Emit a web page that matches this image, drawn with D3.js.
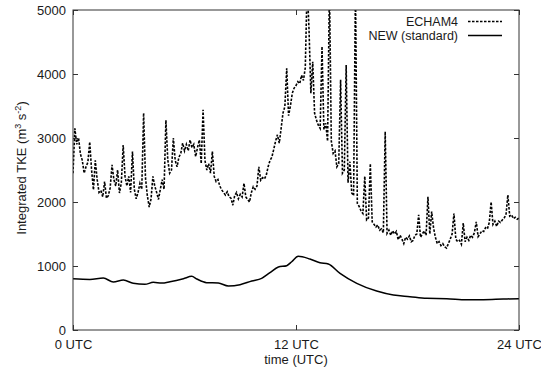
<!DOCTYPE html>
<html><head><meta charset="utf-8">
<script src="https://cdn.jsdelivr.net/npm/d3@7"></script>
<style>
body{margin:0;background:#fff}
svg{display:block}
text{font-family:"Liberation Sans",Arial,Helvetica,sans-serif;font-size:13px;fill:#1a1a1a}
</style>
</head><body><svg id="c" width="541" height="376"></svg>
<script>
const xTickHours = [0, 12, 24];
const xTickLabels = ["0 UTC", "12 UTC", "24 UTC"];
const yTicks = [0, 1000, 2000, 3000, 4000, 5000];
const seriesNames = ["ECHAM4", "NEW (standard)"];

// ECHAM4: sampled every 0.1 h from 0 UTC
const echamStepHours = 0.1;
const echamValues = [
2450,3150,2900,3000,2750,2650,2450,2550,2620,2940,
2500,2190,2650,2350,2150,2180,2080,2320,2060,2100,
2220,2580,2350,2250,2500,2140,2300,2890,2400,2250,
2400,2150,2790,2200,2050,2150,2290,2200,3390,2380,
2100,1920,2050,2400,2250,2150,2040,2200,2350,2200,
3280,2660,2450,2500,3000,2650,2550,2700,2760,2920,
2800,2900,2800,2970,2850,2900,2710,2850,2970,2600,
3440,2650,2500,2600,2450,2790,2400,2320,2350,2250,
2190,2150,2110,2160,2080,2060,1950,2100,2150,2050,
2120,2080,2290,2080,2040,2000,2150,2240,2200,2250,
2550,2340,2380,2360,2420,2550,2650,2700,2820,2950,
3050,2920,3150,3390,3490,4090,3350,3500,3700,3780,
3820,3880,3850,3980,3900,4100,5400,4700,3700,4190,
3390,3280,3200,3150,4430,3130,3230,2950,5400,2950,
2760,2800,2550,2600,3910,2450,2500,4140,2300,2630,
2140,2100,5400,1980,1930,1860,1820,2400,1720,1750,
2600,1690,1650,1610,1640,1560,1580,1520,3100,1510,
1560,1480,1550,1500,1540,1410,1480,1420,1350,1450,
1420,1470,1380,1400,1480,1500,1800,1450,1500,1550,
1480,2080,1500,1850,1600,1450,1350,1380,1320,1350,
1300,1280,1350,1420,1500,1820,1420,1380,1400,1340,
1670,1380,1450,1400,1480,1450,1520,1690,1460,1500,
1550,1540,1600,1580,1680,2000,1650,1700,1620,1700,
1680,1720,1750,1800,2110,1780,1800,1740,1760,1730,
1750
];

// NEW (standard)
const newHours = [0,0.91,1.63,2.17,2.71,3.24,3.87,4.32,4.77,5.22,
5.94,6.39,6.66,7.19,7.82,8.36,8.99,9.62,10.15,10.60,
11.05,11.50,11.77,12.12,12.75,13.29,13.74,14.37,15.27,16.34,
17.24,18.13,19.03,20.11,21.18,22.08,23.15,24];
const newValues = [800,790,812,750,781,729,713,745,734,755,
802,838,797,740,734,688,708,766,807,896,
984,1005,1067,1151,1109,1052,1031,885,729,609,
547,521,495,490,474,474,484,490];

const svg = d3.select("#c");
const L = 73, R = 519, T = 10, B = 330;
const x = d3.scaleLinear().domain([0, 24]).range([L, R]);
const y = d3.scaleLinear().domain([0, 5000]).range([B, T]);

svg.append("defs").append("clipPath").attr("id", "clip")
  .append("rect").attr("x", L).attr("y", T).attr("width", R - L).attr("height", B - T);

const axisColor = "#333";
function styleAxis(g) {
  g.select(".domain").remove();
  g.selectAll(".tick line").attr("stroke", axisColor);
  g.selectAll("text").attr("fill", "#1a1a1a").attr("font-size", 13).attr("font-family", "Liberation Sans, Arial, sans-serif");
}

svg.append("g").attr("transform", `translate(${L},0)`)
  .call(d3.axisLeft(y).tickValues(yTicks).tickSize(-5).tickPadding(7).tickFormat(d3.format("d")))
  .call(styleAxis);
svg.append("g").attr("transform", `translate(${R},0)`)
  .call(d3.axisRight(y).tickValues(yTicks).tickSize(-5).tickFormat(""))
  .call(styleAxis);
svg.append("g").attr("transform", `translate(0,${B})`)
  .call(d3.axisBottom(x).tickValues(xTickHours).tickSize(-5).tickPadding(10).tickFormat((d, i) => xTickLabels[i]))
  .call(styleAxis);
svg.append("g").attr("transform", `translate(0,${T})`)
  .call(d3.axisTop(x).tickValues(xTickHours).tickSize(-5).tickFormat(""))
  .call(styleAxis);

const plot = svg.append("g").attr("clip-path", "url(#clip)");

const newData = newHours.map((h, i) => ({h, v: newValues[i]}));
const echamData = echamValues.map((v, i) => ({h: i * echamStepHours, v}));

plot.append("path").datum(newData)
  .attr("fill", "none").attr("stroke", "#000").attr("stroke-width", 1.5)
  .attr("d", d3.line().x(d => x(d.h)).y(d => y(d.v)).curve(d3.curveMonotoneX));

plot.append("path").datum(echamData)
  .attr("fill", "none").attr("stroke", "#000").attr("stroke-width", 1.6)
  .attr("stroke-dasharray", "2.5,1.5")
  .attr("d", d3.line().x(d => x(d.h)).y(d => y(d.v)));

// frame
svg.append("rect").attr("x", L).attr("y", T).attr("width", R - L).attr("height", B - T)
  .attr("fill", "none").attr("stroke", axisColor).attr("stroke-width", 1);

// legend
const leg = svg.append("g");
const legY = [21.5, 35.5];
seriesNames.forEach((name, i) => {
  leg.append("text").attr("x", 458).attr("y", legY[i] + 4.5).attr("text-anchor", "end")
    .attr("font-size", 12.5).style("font-size", "12.5px").text(name);
  leg.append("line").attr("x1", 468).attr("x2", 502).attr("y1", legY[i]).attr("y2", legY[i])
    .attr("stroke", "#000").attr("stroke-width", i === 0 ? 1.3 : 1.5)
    .attr("stroke-dasharray", i === 0 ? "2.5,1.5" : null);
});

// axis titles
svg.append("text").attr("x", (L + R) / 2).attr("y", 364).attr("text-anchor", "middle").text("time (UTC)");
const yt = svg.append("text").attr("transform", "translate(26,168) rotate(-90)").attr("text-anchor", "middle");
yt.append("tspan").text("Integrated TKE (m");
yt.append("tspan").attr("dy", -5).attr("font-size", 9).style("font-size", "9px").text("3");
yt.append("tspan").attr("dy", 5).text(" s");
yt.append("tspan").attr("dy", -5).attr("font-size", 9).style("font-size", "9px").text("-2");
yt.append("tspan").attr("dy", 5).text(")");
</script>
</body></html>
